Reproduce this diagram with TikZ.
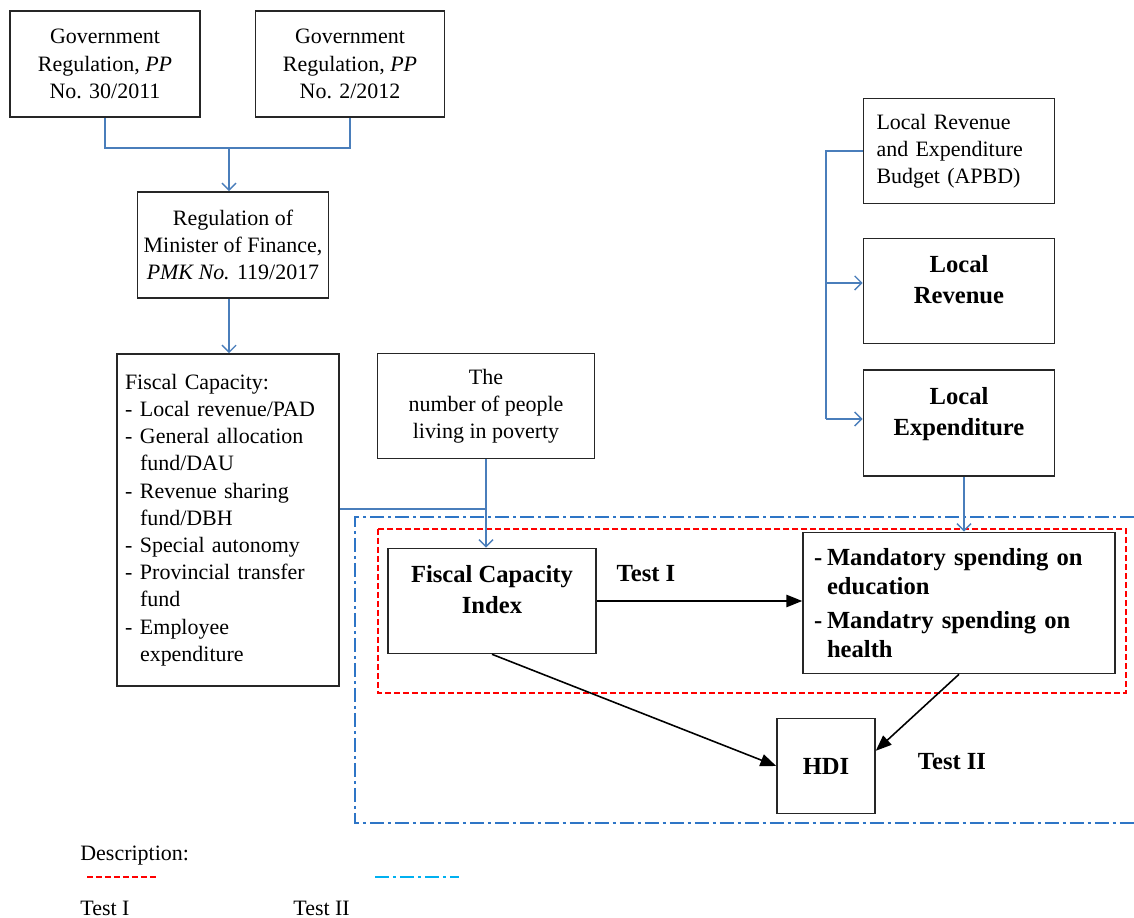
\documentclass[tikz,border=0pt]{standalone}
\usepackage{fontspec}
\setmainfont{Liberation Serif}
\usetikzlibrary{arrows.meta}

\definecolor{linkblue}{HTML}{4A7EBB}
\definecolor{zoneblue}{HTML}{2E75C6}
\definecolor{keyblue}{HTML}{00B0F0}

\tikzset{
  box/.style={draw=black!85, line width=0.9pt, align=center, inner sep=0pt,
    font=\fontsize{12.5}{15.5}\selectfont},
  boldbox/.style={box, font=\bfseries\fontsize{14}{17.5}\selectfont},
  raised/.style={text depth=0.45cm},
  link/.style={draw=linkblue, line width=0.8pt},
  linkarrow/.style={link, -{Straight Barb[length=4pt,width=8pt]}},
  effect/.style={line width=0.9pt, -{Triangle[length=9pt,width=7pt]}},
  testlabel/.style={font=\bfseries\fontsize{14}{17}\selectfont},
  keytext/.style={font=\fontsize{12.5}{15}\selectfont, anchor=west, inner sep=0pt}
}

\begin{document}
\begin{tikzpicture}[x=0.02cm, y=-0.02cm]
  \useasboundingbox (0,0) rectangle (1134,918);

  % test regions
  \draw[zoneblue, line width=0.9pt, dash pattern=on 0.28cm off 0.08cm on 0.06cm off 0.08cm]
    (1134,517) -- (355,517) -- (355,823) -- (1134,823);
  \draw[red, line width=0.9pt, dash pattern=on 0.12cm off 0.06cm] (378,529) rectangle (1126,693);

  % regulations
  \node[box, minimum width=3.8cm, minimum height=2.12cm] (gra) at (105,64)
    {Government\\Regulation, \textit{PP}\\No. 30/2011};
  \node[box, minimum width=3.78cm, minimum height=2.12cm] (grb) at (350,64)
    {Government\\Regulation, \textit{PP}\\No. 2/2012};
  \node[box, minimum width=3.82cm, minimum height=2.12cm] (pmk) at (233,245)
    {Regulation of\\Minister of Finance,\\\textit{PMK No.} 119/2017};
  \node[box, align=left, minimum width=4.44cm, minimum height=6.64cm,
        text width=4.12cm] (fcap) at (228,520)
    {Fiscal Capacity:\\
     \makebox[0.3cm][l]{-}Local revenue/PAD\\
     \makebox[0.3cm][l]{-}General allocation\\
     \hspace*{0.3cm}fund/DAU\\
     \makebox[0.3cm][l]{-}Revenue sharing\\
     \hspace*{0.3cm}fund/DBH\\
     \makebox[0.3cm][l]{-}Special autonomy\\
     \makebox[0.3cm][l]{-}Provincial transfer\\
     \hspace*{0.3cm}fund\\
     \makebox[0.3cm][l]{-}Employee\\
     \hspace*{0.3cm}expenditure};
  \node[box, minimum width=4.34cm, minimum height=2.1cm] (pov) at (486,406)
    {The\\number of people\\living in poverty};

  % budget side
  \node[box, align=left, minimum width=3.82cm, minimum height=2.1cm, text width=3.3cm] (apbd) at (959,151)
    {Local Revenue\\and Expenditure\\Budget (APBD)};
  \node[boldbox, raised, minimum width=3.82cm, minimum height=2.1cm] (lrev) at (959,291)
    {Local\\Revenue};
  \node[boldbox, raised, minimum width=3.82cm, minimum height=2.12cm] (lexp) at (959,423)
    {Local\\Expenditure};

  % model
  \node[boldbox, raised, minimum width=4.16cm, minimum height=2.1cm] (fci) at (492,601)
    {Fiscal Capacity\\Index};
  \node[boldbox, align=left, minimum width=6.24cm, minimum height=2.82cm,
        text width=5.8cm, font=\bfseries\fontsize{14}{16.5}\selectfont] (mand) at (959,603)
    {\makebox[0.26cm][l]{-}Mandatory spending on\\
     \hspace*{0.26cm}education\\[3pt]
     \makebox[0.26cm][l]{-}Mandatry spending on\\
     \hspace*{0.26cm}health};
  \node[boldbox, minimum width=1.96cm, minimum height=1.9cm] (hdi) at (826,766) {HDI};
  \node[testlabel] (testa) at (646,574) {Test I};
  \node[testlabel] (testb) at (952,762) {Test II};

  % blue connectors
  \coordinate (join) at (229,148);
  \coordinate (meet) at (486,509);
  \coordinate (busa) at (826,283);
  \coordinate (busb) at (826,419);
  \draw[link] (gra.south) |- (join) -| (grb.south);
  \draw[linkarrow] (join) -- (join |- pmk.north);
  \draw[linkarrow] (pmk.south -| join) -- (join |- fcap.north);
  \draw[link] (fcap.east |- meet) -- (meet);
  \draw[linkarrow] (pov.south) -- (pov.south |- fci.north);
  \draw[link] (apbd.west) -| (busb);
  \draw[linkarrow] (busa) -- (lrev.west |- busa);
  \draw[linkarrow] (busb) -- (lexp.west |- busb);
  \draw[linkarrow] ([xshift=0.1cm]lexp.south) -- ([xshift=0.1cm]lexp.south |- mand.north);

  % black arrows
  \draw[effect] (fci.east) -- (fci.east -| mand.west);
  \draw[effect] (fci.south) -- (hdi.west);
  \draw[effect] (mand.south) -- (hdi.17);

  % description
  \node[keytext] (desc) at (80,856) {Description:};
  \draw[red, line width=1pt, dash pattern=on 0.12cm off 0.06cm] (87,877) -- (157,877);
  \draw[keyblue, line width=1pt, dash pattern=on 0.28cm off 0.08cm on 0.06cm off 0.08cm] (375,877) -- (459,877);
  \node[keytext] (keya) at (80,908) {Test I};
  \node[keytext] (keyb) at (293,908) {Test II};
\end{tikzpicture}
\end{document}
